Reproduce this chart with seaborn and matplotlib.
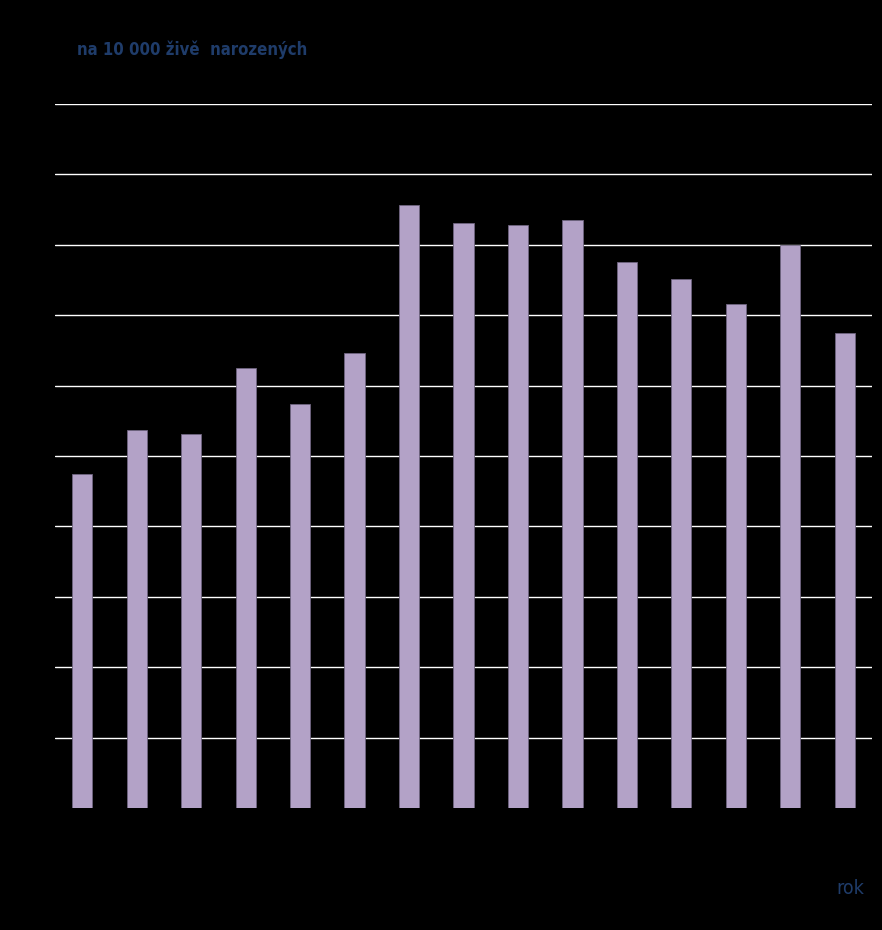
import matplotlib
matplotlib.use('Agg')
import matplotlib.pyplot as plt
import pandas as pd
import seaborn as sns

years = [str(y) for y in range(1994, 2009)]
values = [47.4, 53.7, 53.1, 62.5, 57.4, 64.6, 85.7, 83.1, 82.8, 83.5, 77.6, 75.1, 71.6, 80.0, 67.5]
yticks = list(range(0, 101, 10))

df = pd.DataFrame({'rok': years, 'hodnota': values})

sns.set_style('dark')
plt.rcParams['font.family'] = ['DejaVu Sans']

fig = plt.figure(figsize=(8.82, 9.3), dpi=100, facecolor='black')
ax = fig.add_axes([55 / 882, 1 - 808 / 930, (872 - 55) / 882, (808 - 104) / 930])
ax.set_facecolor('black')

sns.barplot(data=df, x='rok', y='hodnota', color='#B3A2C7', saturation=1,
            width=0.37, edgecolor='#6F6580', linewidth=0.6, ax=ax)

ax.set_xlim(-0.5, len(years) - 0.5)
ax.set_ylim(0, 100)
ax.set_yticks(yticks)
ax.grid(axis='y', color='white', linewidth=1)
ax.grid(axis='x', visible=False)
ax.get_ygridlines()[0].set_visible(False)
ax.set_axisbelow(True)
for s in ax.spines.values():
    s.set_visible(False)
ax.tick_params(colors='black', labelcolor='black', length=0)
ax.set_xlabel('')
ax.set_ylabel('')

fig.text(77 / 882, 1 - 50 / 930, 'na 10 000 živě  narozených', color='#1F3C6A',
         fontsize=12, fontweight='bold', fontstretch='condensed', va='center', ha='left')
fig.text(864 / 882, 1 - 888 / 930, 'rok', color='#1F3C6A',
         fontsize=14, fontstretch='condensed', va='center', ha='right')

fig.savefig('out.png', dpi=100, facecolor='black')
